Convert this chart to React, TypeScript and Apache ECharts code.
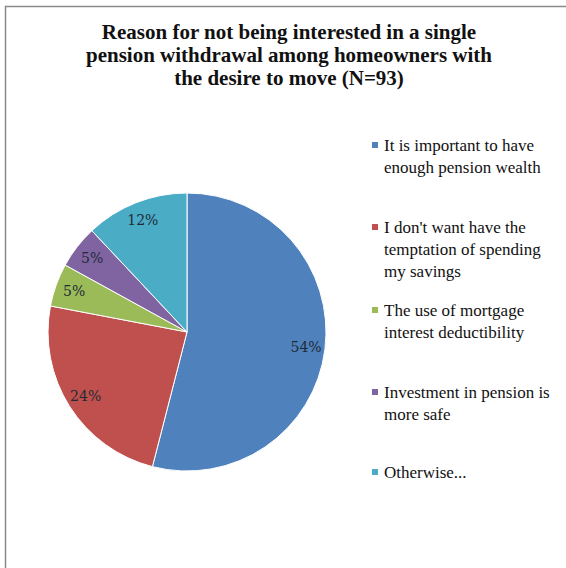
import React, { useEffect, useRef } from "react";
import * as echarts from "echarts";

const TITLE_LINES = [
  "Reason for not being interested in a single",
  "pension withdrawal among homeowners with",
  "the desire to move (N=93)",
];
const CATEGORIES = [
  "It is important to have enough pension wealth",
  "I don't want have the temptation of spending my savings",
  "The use of mortgage interest deductibility",
  "Investment in pension is more safe",
  "Otherwise...",
];
const LEGEND_LINES = [
  ["It is important to have", "enough pension wealth"],
  ["I don't want have the", "temptation of spending", "my savings"],
  ["The use of mortgage", "interest deductibility"],
  ["Investment in pension is", "more safe"],
  ["Otherwise..."],
];
const VALUES = [54, 24, 5, 5, 12];
const COLORS = ["#4F81BD", "#C0504D", "#9BBB59", "#8064A2", "#4BACC6"];
const LEGEND_FIRST_LINE_Y = [145, 227, 310, 392, 472];

export default function App() {
  const ref = useRef<HTMLDivElement>(null);
  useEffect(() => {
    if (!ref.current) return;
    const chart = echarts.init(ref.current, undefined, { renderer: "svg" });
    const LH = 22;
    const center = [187, 332];
    const R = 139;
    const legends = CATEGORIES.map((name, i) => {
      const n = LEGEND_LINES[i].length;
      const H = (2 * n - 1) * LH;
      return {
        orient: "vertical",
        left: 370,
        top: LEGEND_FIRST_LINE_Y[i] - H / 2,
        padding: 0,
        itemWidth: 8,
        itemHeight: 8,
        itemGap: 0,
        selectedMode: false,
        icon: "rect",
        data: [name],
        formatter: () => "\n".repeat(n - 1) + LEGEND_LINES[i].join("\n"),
        textStyle: {
          fontFamily: "Liberation Serif",
          fontSize: 17,
          color: "#111",
          lineHeight: LH,
        },
      };
    });
    chart.setOption({
      animation: false,
      backgroundColor: "#fff",
      title: {
        text: TITLE_LINES.join("\n"),
        left: 289,
        top: 20,
        padding: 0,
        textAlign: "center",
        textStyle: {
          fontFamily: "Liberation Serif",
          fontWeight: "bold",
          fontSize: 21,
          lineHeight: 23,
          color: "#111",
        },
      },
      legend: legends,
      graphic: [
        {
          type: "rect",
          shape: { x: 5.5, y: 6.5, width: 600, height: 600 },
          style: { fill: "none", stroke: "#8a8a8a", lineWidth: 1.5 },
          silent: true,
        },
      ],
      series: [
        {
          type: "pie",
          center,
          radius: [0, R],
          startAngle: 90,
          clockwise: true,
          silent: true,
          label: { show: false },
          labelLine: { show: false },
          itemStyle: { borderColor: "#fff", borderWidth: 1 },
          data: CATEGORIES.map((name, i) => ({
            name,
            value: VALUES[i],
            itemStyle: { color: COLORS[i] },
          })),
        },
        {
          type: "pie",
          center,
          radius: [95, R],
          startAngle: 90,
          clockwise: true,
          silent: true,
          labelLine: { show: false },
          itemStyle: { color: "rgba(0,0,0,0)", borderWidth: 0 },
          label: {
            show: true,
            position: "inside",
            formatter: (p: any) => Math.round(p.percent) + "%",
            fontFamily: "DejaVu Serif",
            fontSize: 14,
            color: "#1f2a36",
          },
          data: CATEGORIES.map((name, i) => ({ name, value: VALUES[i] })),
        },
      ],
    });
    return () => chart.dispose();
  }, []);
  return (
    <div
      ref={ref}
      style={{ position: "fixed", left: 0, top: 0, width: 566, height: 568 }}
    />
  );
}
